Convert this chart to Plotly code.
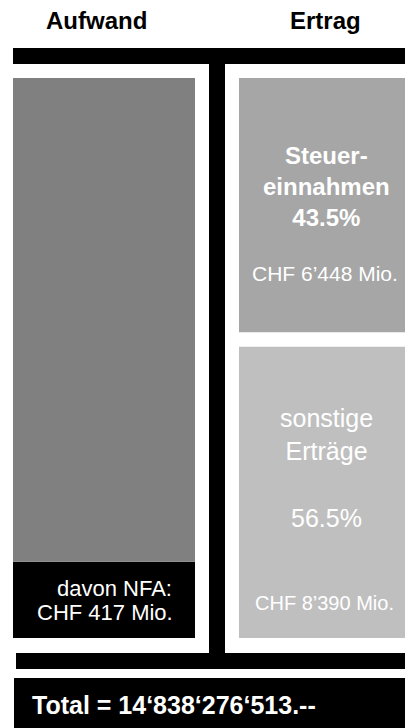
import plotly.graph_objects as go

# Die Seite hat 8px Body-Rand, daher ist die Figur um 8px kleiner
OFF = 8
W, H = 413 - OFF, 728 - OFF

# Spalten
column_titles = ["Aufwand", "Ertrag"]

# Aufwand (Blockhöhen wie im Bild, schematisch in % der Spaltenhöhe)
aufwand_parts = ["Aufwand", "davon NFA"]
aufwand_blocks = [86.4, 13.6]
nfa_lines = ["davon NFA:", "CHF 417 Mio."]

# Ertrag
ertrag_parts = ["Steuereinnahmen", "sonstige Erträge"]
ertrag_blocks = [45.4, 52.0]
ertrag_gap = 2.6
ertrag_share = [43.5, 56.5]
ertrag_chf = ["CHF 6’448 Mio.", "CHF 8’390 Mio."]

total_text = "Total = 14‘838‘276‘513.--"

FONT = "Liberation Sans, Arial, sans-serif"


def px(x, y):
    # Pixel im Zielbild -> paper-Koordinaten
    return (x - OFF) / W, 1 - (y - OFF) / H


fig = go.Figure()

# linke Spalte: NFA unten, Rest oben
fig.add_trace(go.Bar(x=[0], y=[aufwand_blocks[1]], base=[0], width=[0.8217],
                     marker=dict(color="black", line_width=0), hoverinfo="none"))
fig.add_trace(go.Bar(x=[0], y=[aufwand_blocks[0]], base=[aufwand_blocks[1]], width=[0.8217],
                     marker=dict(color="#808080", line_width=0), hoverinfo="none"))

# rechte Spalte: sonstige unten, Steuern oben
fig.add_trace(go.Bar(x=[1], y=[ertrag_blocks[1]], base=[0], width=[0.781],
                     marker=dict(color="#BFBFBF", line_width=0), hoverinfo="none"))
fig.add_trace(go.Bar(x=[1], y=[ertrag_blocks[0]], base=[ertrag_blocks[1] + ertrag_gap], width=[0.781],
                     marker=dict(color="#A6A6A6", line_width=0), hoverinfo="none"))

unit = 560 / 100.0
x0_px = 104 - OFF
y0_px = 638 - OFF
fig.update_layout(
    width=W, height=H,
    margin=dict(l=0, r=0, t=0, b=0),
    barmode="overlay",
    showlegend=False,
    plot_bgcolor="white",
    paper_bgcolor="white",
    xaxis=dict(range=[-x0_px / 221.5, (W - x0_px) / 221.5], visible=False, fixedrange=True),
    yaxis=dict(range=[-(H - y0_px) / unit, y0_px / unit], visible=False, fixedrange=True),
)


# schwarzes T-Gerüst und Total-Kasten
def rect(x0, y0, x1, y1):
    a0, b0 = px(x0, y0)
    a1, b1 = px(x1, y1)
    fig.add_shape(type="rect", xref="paper", yref="paper", x0=a0, x1=a1, y0=b1, y1=b0,
                  fillcolor="black", line_width=0, layer="below")

rect(13, 48, 413, 64)
rect(209, 48, 225, 669)
rect(16, 653, 413, 669)
rect(14, 678, 413, 728)


def label(text, x, y, size, bold=False, color="white", xanchor="center"):
    a, b = px(x, y)
    if bold:
        text = "<b>" + text + "</b>"
    fig.add_annotation(x=a, y=b, xref="paper", yref="paper", text=text, showarrow=False,
                       xanchor=xanchor, yanchor="middle",
                       font=dict(family=FONT, size=size, color=color))


label(column_titles[0], 96, 20, 24, bold=True, color="black")
label(column_titles[1], 325, 20, 24, bold=True, color="black")

label("Steuer-<br>einnahmen<br>%.1f%%" % ertrag_share[0], 326, 186, 24, bold=True)
label(ertrag_chf[0], 325, 273, 21)

label("sonstige<br>Erträge", 326, 434, 25)
label("%.1f%%" % ertrag_share[1], 326, 518, 25)
label(ertrag_chf[1], 324, 603, 20)

label(nfa_lines[0], 115, 588, 22)
label(nfa_lines[1], 105, 612, 22)

label("<b>" + total_text + "</b>", 30, 705, 25, xanchor="left")

fig.write_html("out.html")
